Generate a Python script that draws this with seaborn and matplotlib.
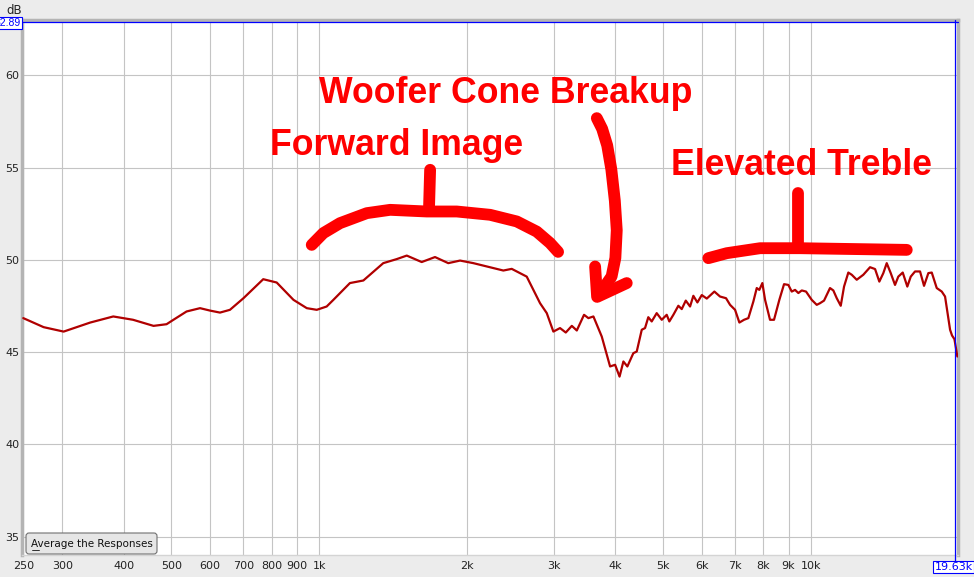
import matplotlib.pyplot as plt
import seaborn as sns
from matplotlib.patches import FancyBboxPatch
from matplotlib.transforms import IdentityTransform

# averaged response (Hz, dB)
freq_hz = [
    250, 275, 302, 342, 381, 418, 460, 489, 505, 537, 572, 599, 628, 658, 701,
    769, 819, 886, 943, 988, 1035, 1068, 1154, 1229, 1349, 1437, 1506, 1615,
    1719, 1829, 1933, 2057, 2190, 2367, 2462, 2641, 2811, 2901, 2992, 3087,
    3171, 3262, 3339, 3454, 3525, 3609, 3753, 3902, 3995, 4079, 4153, 4231,
    4351, 4421, 4526, 4596, 4667, 4742, 4854, 4970, 5087, 5150, 5248, 5372,
    5458, 5562, 5675, 5763, 5873, 5995, 6137, 6359, 6530, 6716, 6844, 7006,
    7149, 7307, 7456, 7633, 7755, 7850, 7961, 8063, 8252, 8408, 8620, 8812,
    8991, 9135, 9279, 9423, 9574, 9768, 10032, 10270, 10430, 10627, 10929,
    11100, 11279, 11492, 11671, 11907, 12100, 12385, 12772, 13182, 13496,
    13768, 14028, 14253, 14523, 14817, 15047, 15362, 15696, 15950, 16273,
    16660, 16974, 17321, 17599, 18014, 18443, 18730, 19175, 19350, 19570, 19840,
]
level_db = [
    46.84, 46.35, 46.11, 46.60, 46.93, 46.75, 46.42, 46.51, 46.75, 47.20, 47.38,
    47.25, 47.14, 47.29, 47.92, 48.95, 48.77, 47.83, 47.38, 47.29, 47.47, 47.83,
    48.74, 48.88, 49.82, 50.04, 50.23, 49.88, 50.15, 49.82, 49.96, 49.82, 49.64,
    49.42, 49.51, 49.09, 47.65, 47.11, 46.11, 46.30, 46.06, 46.42, 46.17, 47.02,
    46.84, 46.93, 45.84, 44.22, 44.31, 43.67, 44.49, 44.22, 44.94, 45.03, 46.21,
    46.30, 46.89, 46.66, 47.11, 46.75, 47.02, 46.66, 47.02, 47.51, 47.33, 47.79,
    47.47, 48.05, 47.69, 48.09, 47.90, 48.28, 48.01, 47.92, 47.56, 47.29, 46.60,
    46.75, 46.84, 47.74, 48.47, 48.37, 48.74, 47.83, 46.75, 46.75, 47.83, 48.68,
    48.64, 48.28, 48.37, 48.20, 48.34, 48.28, 47.83, 47.56, 47.65, 47.79, 48.47,
    48.34, 47.92, 47.51, 48.55, 49.31, 49.19, 48.92, 49.19, 49.60, 49.50, 48.82,
    49.28, 49.82, 49.28, 48.64, 49.09, 49.31, 48.55, 49.09, 49.37, 49.37, 48.59,
    49.28, 49.31, 48.47, 48.28, 48.01, 46.21, 45.90, 45.70, 44.76,
]

x_ticks = [250, 300, 400, 500, 600, 700, 800, 900, 1000, 2000, 3000, 4000,
           5000, 6000, 7000, 8000, 9000, 10000]
x_labels = ["250", "300", "400", "500", "600", "700", "800", "900", "1k",
            "2k", "3k", "4k", "5k", "6k", "7k", "8k", "9k", "10k"]
y_ticks = [35, 40, 45, 50, 55, 60]

cursor_db = 62.89
cursor_hz = 19630

# hand drawn markup, (Hz, dB)
forward_arc = [(965, 50.81), (1019, 51.45), (1102, 51.99), (1249, 52.53),
               (1393, 52.71), (1654, 52.62), (1903, 52.62), (2225, 52.44),
               (2521, 52.08), (2768, 51.53), (2946, 50.91), (3059, 50.43)]
forward_stem = [(1680, 54.88), (1671, 52.71)]
breakup_arrow = [(3667, 57.68), (3760, 57.10), (3850, 56.20), (3925, 54.90),
                 (3990, 53.20), (4026, 51.60), (4000, 50.10), (3930, 49.10),
                 (3724, 48.20)]
breakup_head = [(3638, 49.64), (3672, 47.99), (4219, 48.74)]
treble_bar = [(6182, 50.09), (6739, 50.36), (7876, 50.63), (9497, 50.63),
              (15656, 50.54)]
treble_stem = [(9423, 53.62), (9423, 50.72)]

notes = [("Woofer Cone Breakup", 999, 58.49),
         ("Forward Image", 795, 55.69),
         ("Elevated Treble", 5200, 54.61)]

W, H = 974, 577

sns.set_style("white")
plt.rcParams["font.family"] = ["DejaVu Sans"]

fig = plt.figure(figsize=(W / 100, H / 100), dpi=100, facecolor="#ececec")
ax = fig.add_axes([22 / W, 22 / H, 936 / W, 535 / H])
ax.set_facecolor("white")

sns.lineplot(x=freq_hz, y=level_db, ax=ax, color="#b00000", lw=1.6,
             estimator=None, sort=False, zorder=3)

ax.set_xscale("log")
ax.set_xlim(248.5, 19900)
ax.set_ylim(34, 63)
ax.set_xticks(x_ticks)
ax.set_xticklabels(x_labels)
ax.set_xticks([], minor=True)
ax.set_yticks(y_ticks)
ax.grid(True, color="#c4c4c4", lw=0.8)
ax.tick_params(axis="both", length=0, labelsize=8, labelcolor="#222222")
ax.tick_params(axis="y", pad=2)
ax.tick_params(axis="x", pad=4)
ax.set_xlabel("")
ax.set_ylabel("")
for side in ["left", "top", "right"]:
    ax.spines[side].set_color("#b4b4b4")
    ax.spines[side].set_linewidth(2.5)
ax.spines["bottom"].set_color("#d4d4d4")
ax.spines["bottom"].set_linewidth(1)

# cursor
ax.axhline(cursor_db, color="blue", lw=0.9, zorder=4, xmin=-0.002, clip_on=False)
ax.axvline(cursor_hz, color="blue", lw=0.9, zorder=4, ymin=-0.012, clip_on=False)

# markup
red = "#ff0000"
for path in [forward_arc, forward_stem, breakup_arrow, breakup_head,
             treble_bar, treble_stem]:
    xs, ys = zip(*path)
    ax.plot(xs, ys, color=red, lw=8.5, solid_capstyle="round",
            solid_joinstyle="round", zorder=5)
for text, fx, fy in notes:
    ax.text(fx, fy, text, color=red, fontsize=25.7, fontweight="bold",
            family=["Liberation Sans", "DejaVu Sans"], ha="left", va="baseline",
            zorder=6)

# window chrome
fig.text(14 / W, 1 - 10 / H, "dB", ha="center", va="center", fontsize=8.5,
         color="#222222")
fig.text(21 / W, 1 - 23 / H, "62.89", ha="right", va="center", fontsize=7.5,
         color="blue", family=["Liberation Sans", "DejaVu Sans"],
         bbox=dict(boxstyle="square,pad=0.12", fc="white", ec="blue", lw=0.8))
fig.text(953.5 / W, 1 - 567 / H, "19.63k", ha="center", va="center",
         fontsize=8, color="blue",
         bbox=dict(boxstyle="square,pad=0.12", fc="white", ec="blue", lw=0.8))

button = FancyBboxPatch((26, H - 554), 131, 21,
                        boxstyle="round,pad=0,rounding_size=3",
                        transform=IdentityTransform(), fc="#e6e6e6",
                        ec="#707070", lw=0.8, zorder=10)
fig.add_artist(button)
fig.text(91.5, H - 544, "Average the Responses", transform=IdentityTransform(),
         ha="center", va="center", fontsize=7.5, color="#111111", zorder=11)
fig.add_artist(plt.Line2D([32, 39], [H - 550, H - 550], color="#111111",
                          lw=0.6, transform=IdentityTransform(), zorder=11))

fig.savefig("out.png", dpi=100, facecolor=fig.get_facecolor())
